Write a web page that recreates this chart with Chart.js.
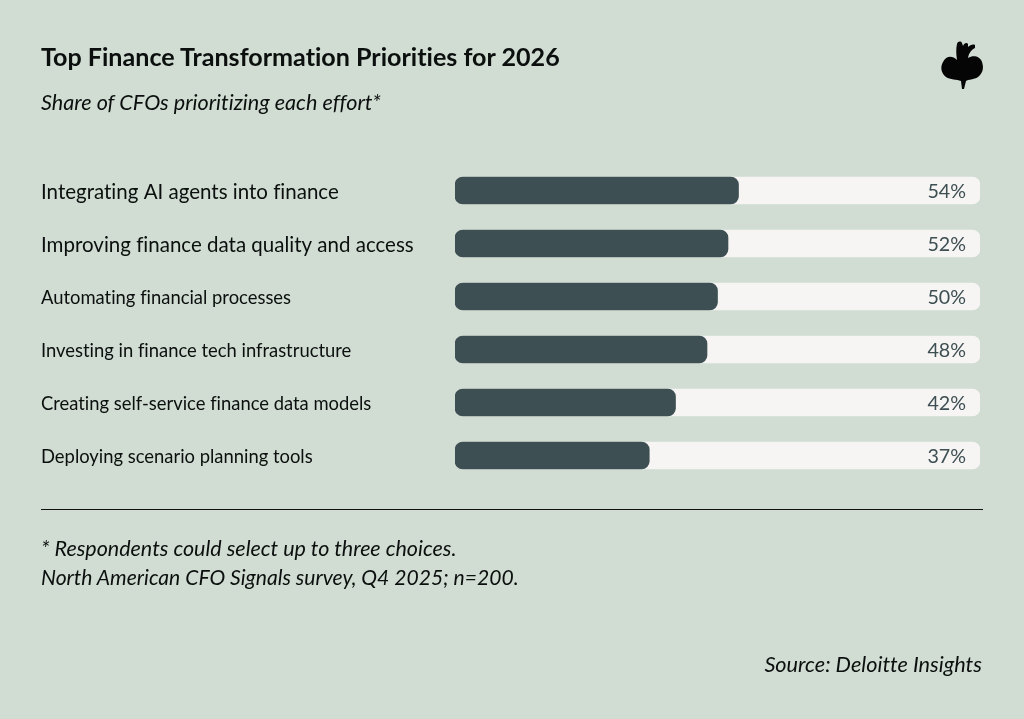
<!DOCTYPE html>
<html>
<head>
<meta charset="utf-8">
<script src="https://cdn.jsdelivr.net/npm/chart.js@4"></script>
<style>
  html, body { margin: 0; padding: 0; background: #d1dcd3; }
  #page { position: relative; width: 1024px; height: 719px; overflow: hidden; font-family: "Lato", sans-serif; color: #0b0f0e; }
  #page canvas { position: absolute; left: 0; top: 0; }
  .txt { position: absolute; white-space: nowrap; line-height: 1; font-variant-ligatures: none; }
  .it { font-style: italic; }
  #title { left: 41px; top: 44px; font-size: 25.1px; font-weight: 700; }
  #subtitle { left: 41px; top: 92px; font-size: 21.6px; }
  #rule { position: absolute; left: 41px; top: 509px; width: 942px; height: 1px; background: #111; }
  #note1 { left: 41px; top: 538px; font-size: 21.5px; }
  #note2 { left: 41px; top: 566px; font-size: 21.1px; }
  #source { right: 42px; top: 654px; font-size: 21.7px; }
  #logo { position: absolute; left: 940px; top: 40px; }
</style>
</head>
<body>
<div id="page">
  <canvas id="chart" width="1024" height="719"></canvas>
  <div class="txt" id="title">Top Finance Transformation Priorities for 2026</div>
  <div class="txt it" id="subtitle">Share of CFOs prioritizing each effort*</div>
  <div id="rule"></div>
  <div class="txt it" id="note1">* Respondents could select up to three choices.</div>
  <div class="txt it" id="note2">North American CFO Signals survey, Q4 2025; n=200.</div>
  <div class="txt it" id="source">Source: Deloitte Insights</div>
  <svg id="logo" width="46" height="52" viewBox="0 0 46 52">
    <path fill="#050505" d="M17 20 C16 14 16 8 17 4 C18 1 21 1 22 3 L23 6 C24 3 27 2 28 4 L28 7 C30 5 33 4 35 5 L35 8 C31 10 29 13 28 18 C33 15 40 16 42 22 C44 28 43 33 38 37 C34 40 28 39 26 41 L24 49 L22 49 L21 41 C17 39 10 40 6 37 C1 33 0 27 3 22 C6 16 12 15 17 20 Z"/>
  </svg>
</div>
<script>
const categories = [
  "Integrating AI agents into finance",
  "Improving finance data quality and access",
  "Automating financial processes",
  "Investing in finance tech infrastructure",
  "Creating self-service finance data models",
  "Deploying scenario planning tools"
];
const shares = [54, 52, 50, 48, 42, 37];
const trackValues = [100, 100, 100, 100, 100, 100];

// percent text at the right end of each track
const valueLabels = {
  id: "valueLabels",
  afterDatasetsDraw(chart) {
    const { ctx, scales } = chart;
    const right = scales.x.getPixelForValue(100) - 14;
    ctx.save();
    ctx.font = '19.7px "Lato", sans-serif';
    ctx.fillStyle = "#3d4f52";
    ctx.textAlign = "right";
    ctx.textBaseline = "middle";
    shares.forEach((v, i) => {
      ctx.fillText(v + "%", right, scales.y.getPixelForValue(i) + 1.5);
    });
    ctx.restore();
  }
};

// no fi/ti ligatures in the axis labels
const plainText = {
  id: "plainText",
  beforeDraw(chart) { chart.ctx.textRendering = "optimizeSpeed"; }
};

new Chart(document.getElementById("chart"), {
  type: "bar",
  data: {
    labels: categories,
    datasets: [
      {
        data: shares,
        backgroundColor: "#3d4f52",
        barThickness: 27,
        borderRadius: 8,
        borderSkipped: false,
        grouped: false,
        order: 1
      },
      {
        data: trackValues,
        backgroundColor: "#f7f5f4",
        barThickness: 27,
        borderRadius: 8,
        borderSkipped: false,
        grouped: false,
        order: 2
      }
    ]
  },
  plugins: [plainText, valueLabels],
  options: {
    indexAxis: "y",
    responsive: false,
    animation: false,
    layout: { padding: { left: 41, right: 44, top: 164, bottom: 237 } },
    plugins: { legend: { display: false }, tooltip: { enabled: false } },
    scales: {
      x: { display: false, min: 0, max: 100 },
      y: {
        afterFit(scale) { scale.width = 414; },
        grid: { display: false },
        border: { display: false },
        ticks: {
          crossAlign: "far",
          padding: 0,
          labelOffset: 2,
          color: "#0b0f0e",
          autoSkip: false,
          // the two top rows are set a size larger
          font: (ctx) => ({ family: "Lato", size: ctx.index < 2 ? 20.5 : 18.4 })
        }
      }
    }
  }
});
</script>
</body>
</html>
